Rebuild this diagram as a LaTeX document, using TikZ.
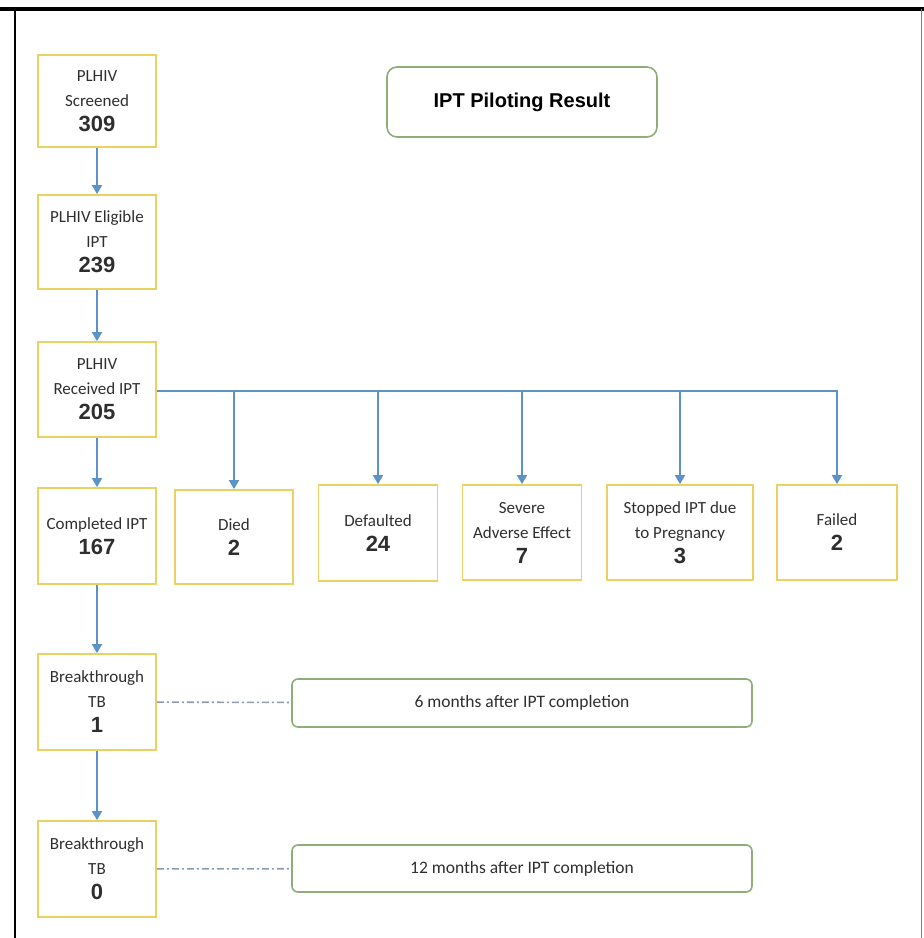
\documentclass[tikz,border=0pt]{standalone}
\usepackage{fontspec}
\setmainfont{Carlito}
\newfontfamily\numfont{Liberation Sans}
\usepackage{tikz}
\usetikzlibrary{positioning,arrows.meta}
\usepackage{xcolor}

\definecolor{boxyellow}{HTML}{EBD162}
\definecolor{flowblue}{HTML}{5B92C8}
\definecolor{notegreen}{HTML}{8DAE78}
\definecolor{dashgray}{HTML}{8E9CB0}
\definecolor{labelgray}{HTML}{2E2E2E}

\newcommand{\cnt}[1]{{\numfont\bfseries\fontsize{22}{24}\selectfont #1}}

\begin{document}
\begin{tikzpicture}[
    x=1pt, y=-1pt,
    stage/.style={draw=boxyellow, line width=1.8pt, inner sep=0pt, align=center,
        minimum width=118pt, minimum height=94pt, text=labelgray,
        font=\fontsize{17}{25}\selectfont},
    note/.style={draw=notegreen, line width=1.6pt, rounded corners=6pt, inner sep=0pt,
        minimum width=460pt, minimum height=48pt, text=labelgray,
        font=\fontsize{17.5}{20}\selectfont},
    flow/.style={draw=flowblue, line width=1.8pt, -{Triangle[width=10pt,length=9pt]}},
    link/.style={draw=dashgray, line width=1.6pt, dash pattern=on 7pt off 3pt on 2pt off 3pt}
]
\useasboundingbox (0,0) rectangle (924,938);

% ----- Frame -----
\draw[line width=4.5pt] (0,9) -- (924,9);
\draw[line width=2.5pt] (15,9) -- (15,938);
\draw[line width=1pt, gray] (921,9) -- (921,938);

% ----- Title -----
\node[draw=notegreen, line width=1.6pt, rounded corners=10pt, minimum width=270pt,
    minimum height=70pt, font=\numfont\bfseries\fontsize{20}{22}\selectfont]
    (title) at (522,102) {IPT Piloting Result};

% ----- Main column -----
\node[stage, minimum height=92pt] (screened) at (97,101) {PLHIV\\Screened\\\cnt{309}};
\node[stage] (eligible) at (97,242) {PLHIV Eligible\\IPT\\\cnt{239}};
\node[stage, minimum height=95pt] (received) at (97,389.5) {PLHIV\\Received IPT\\\cnt{205}};
\node[stage, minimum height=96pt] (completed) at (97,536) {Completed IPT\\\cnt{167}};
\node[stage, minimum height=96pt] (bt6) at (97,702) {Breakthrough\\TB\\\cnt{1}};
\node[stage, minimum height=96pt] (bt12) at (97,869) {Breakthrough\\TB\\\cnt{0}};

% ----- Outcomes -----
\node[stage] (died) at (234,537) {Died\\\cnt{2}};
\node[stage, minimum width=119pt, minimum height=96pt] (defaulted) at (378,533) {Defaulted\\\cnt{24}};
\node[stage, minimum width=119pt, minimum height=95pt] (severe) at (522,532.5) {Severe\\Adverse Effect\\\cnt{7}};
\node[stage, minimum width=146pt, minimum height=95pt] (stopped) at (680,532.5) {Stopped IPT due\\to Pregnancy\\\cnt{3}};
\node[stage, minimum width=120pt, minimum height=95pt] (failed) at (837,532.5) {Failed\\\cnt{2}};

% ----- Follow-up notes -----
\node[note] (six) at (522,703) {6 months after IPT completion};
\node[note, minimum height=47pt] (twelve) at (522,868.5) {12 months after IPT completion};

% ----- Connections -----
\draw[flow] (screened) -- (eligible);
\draw[flow] (eligible) -- (received);
\draw[flow] (received) -- (completed);
\draw[flow] (completed) -- (bt6);
\draw[flow] (bt6) -- (bt12);

\coordinate (branch) at ([yshift=-1.5pt]received.east);
\draw[flow] (branch) -| (failed.north);
\foreach \n in {died,defaulted,severe,stopped}{
    \draw[flow] (branch -| \n.north) -- (\n.north);
}

\draw[link] (bt6) -- (six);
\draw[link] (bt12) -- (twelve);

\end{tikzpicture}
\end{document}
